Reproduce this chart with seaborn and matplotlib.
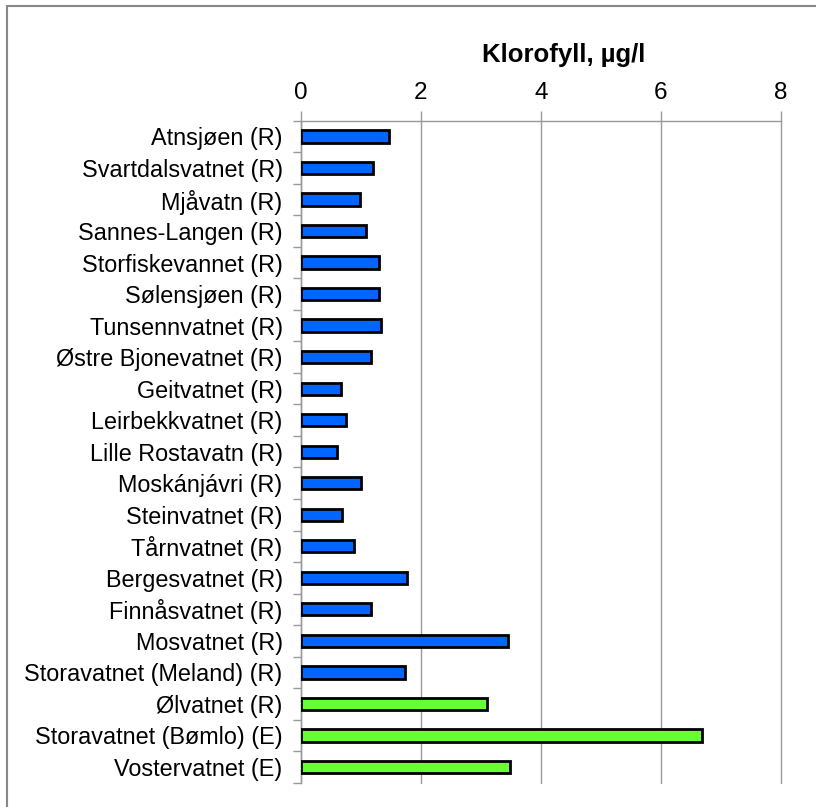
import matplotlib
matplotlib.use("Agg")
import matplotlib.pyplot as plt
import seaborn as sns
import pandas as pd

lakes = [
    "Atnsjøen (R)", "Svartdalsvatnet (R)", "Mjåvatn (R)", "Sannes-Langen (R)",
    "Storfiskevannet (R)", "Sølensjøen (R)", "Tunsennvatnet (R)",
    "Østre Bjonevatnet (R)", "Geitvatnet (R)", "Leirbekkvatnet (R)",
    "Lille Rostavatn (R)", "Moskánjávri (R)", "Steinvatnet (R)",
    "Tårnvatnet (R)", "Bergesvatnet (R)", "Finnåsvatnet (R)", "Mosvatnet (R)",
    "Storavatnet (Meland) (R)", "Ølvatnet (R)", "Storavatnet (Bømlo) (E)",
    "Vostervatnet (E)",
]
chl = [1.47, 1.21, 0.98, 1.08, 1.31, 1.31, 1.33, 1.17, 0.67, 0.75, 0.61,
       1.00, 0.68, 0.89, 1.77, 1.17, 3.45, 1.73, 3.10, 6.68, 3.48]
group = ["blue"] * 18 + ["green"] * 3
xticks = [0, 2, 4, 6, 8]

df = pd.DataFrame({"lake": lakes, "chl": chl, "group": group})

sns.set_style("white")
plt.rcParams["font.family"] = ["Liberation Sans", "DejaVu Sans"]
plt.rcParams["text.color"] = "black"
plt.rcParams["xtick.color"] = "black"
plt.rcParams["ytick.color"] = "black"

fig = plt.figure(figsize=(8.16, 8.07), dpi=100)
ax = fig.add_axes([0.3685, 0.0301, 0.5885, 0.8203])

sns.barplot(data=df, x="chl", y="lake", hue="group",
            palette={"blue": "#0066FF", "green": "#66FF33"},
            dodge=False, legend=False, width=0.39, saturation=1,
            edgecolor="black", linewidth=2, ax=ax, zorder=3)

ax.set_xlim(0, 8)
ax.set_ylim(len(lakes) - 0.5, -0.5)
ax.set_xlabel("")
ax.set_ylabel("")

ax.xaxis.tick_top()
ax.set_xticks(xticks)
ax.set_xticklabels([str(t) for t in xticks], fontsize=17.5)
ax.tick_params(axis="x", length=7, color="#999999", labelcolor="black",
               width=1, pad=5)
ax.grid(axis="x", color="#999999", linewidth=1, zorder=0)
for gl in ax.get_xgridlines():
    gl.set_clip_on(False)
ax.set_axisbelow(True)

# category labels in the middle, tick marks at the boundaries
ax.set_yticks([i - 0.5 for i in range(len(lakes) + 1)])
ax.set_yticklabels([])
ax.set_yticks(range(len(lakes)), minor=True)
ax.set_yticklabels(lakes, minor=True, fontsize=16.8)
ax.tick_params(axis="y", which="major", length=6, color="#999999", width=1, left=True)
ax.tick_params(axis="y", which="minor", length=0, pad=13, labelcolor="black")

for s in ["right", "bottom"]:
    ax.spines[s].set_visible(False)
for s in ["top", "left"]:
    ax.spines[s].set_color("#999999")
    ax.spines[s].set_linewidth(1)

fig.text(564 / 816, 1 - 62 / 807, "Klorofyll, µg/l", ha="center",
         va="baseline", fontsize=18.5, fontweight="bold", color="black")

# outer chart frame
fig.add_artist(plt.Line2D([7 / 816, 7 / 816], [0, 1 - 6 / 807],
                          transform=fig.transFigure, color="#888888", lw=1.5))
fig.add_artist(plt.Line2D([7 / 816, 1], [1 - 6 / 807, 1 - 6 / 807],
                          transform=fig.transFigure, color="#888888", lw=1.5))

fig.savefig("out.png", dpi=100)
